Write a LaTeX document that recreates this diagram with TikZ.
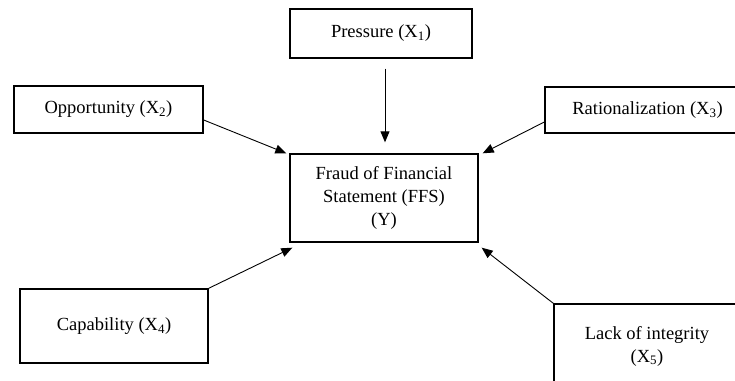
\documentclass[tikz,border=0pt]{standalone}
\usepackage{fontspec}
\setmainfont{Liberation Serif}
\usetikzlibrary{arrows.meta}
\begin{document}
\begin{tikzpicture}[x=1pt,y=-1pt,
  box/.style={draw, line width=1.4pt, inner sep=0pt, align=center,
    font=\fontsize{18.5}{23}\selectfont},
  arr/.style={line width=0.9pt, -{Triangle[length=11pt,width=9pt]}}]
\useasboundingbox (0,0) rectangle (735,380);
\clip (0,0) rectangle (735,380);
\node[box, minimum width=182pt, minimum height=49pt] (p) at (381,33.5) {Pressure (X\textsubscript{1})};
\node[box, minimum width=188pt, minimum height=88pt] (f) at (384,198) {Fraud of Financial\\Statement (FFS)\\(Y)};
\node[box, minimum width=189pt, minimum height=47pt] (o) at (108.5,109.5) {Opportunity (X\textsubscript{2})};
\node[box, minimum width=205pt, minimum height=46pt] (r) at (647.5,110) {Rationalization (X\textsubscript{3})};
\node[box, minimum width=188pt, minimum height=74pt] (c) at (114,326) {Capability (X\textsubscript{4})};
\node[box, minimum width=186pt, minimum height=84pt] (l) at (647,346) {Lack of integrity\\(X\textsubscript{5})};
\draw[arr] ([xshift=4pt,yshift=-10pt]p.south) -- ([xshift=1pt,yshift=11pt]f.north);
\draw[arr] ([yshift=-10.5pt]o.east) -- ([xshift=-3pt]f.north west);
\draw[arr] ([yshift=-12pt]r.west) -- ([xshift=4pt]f.north east);
\draw[arr] (c.north east) -- ([xshift=3pt,yshift=-5pt]f.south west);
\draw[arr] (l.north west) -- ([xshift=3pt,yshift=-5pt]f.south east);
\end{tikzpicture}
\end{document}
